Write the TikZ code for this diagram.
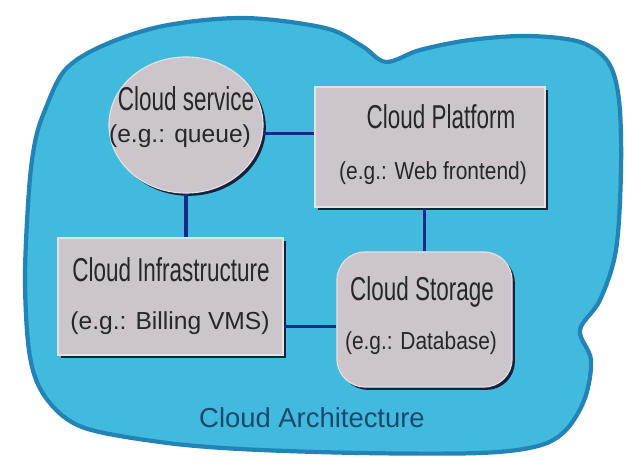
\documentclass[tikz,border=0pt]{standalone}
\usepackage{fontspec}
\setmainfont{Liberation Sans}
\newfontfamily\titlefont[FakeStretch=0.68]{Liberation Sans}
\newfontfamily\narrowfont[FakeStretch=0.85]{Liberation Sans}
\usetikzlibrary{shapes.geometric,shadows,positioning}

\begin{document}
\begin{tikzpicture}[x=0.025cm, y=-0.025cm,
    blocco/.style={fill=boxgray, draw=boxlight, line width=0.8pt,
        drop shadow={shadow xshift=0.07cm, shadow yshift=-0.07cm, fill=boxedge, opacity=1}},
    titolo/.style={font=\titlefont\fontsize{23.5}{28}\selectfont, text=inktext, inner sep=0pt},
    sottotitolo/.style={font=\fontsize{17.5}{21}\selectfont, text=inktext, inner sep=0pt},
    collegamento/.style={draw=linkblue, line width=2.2pt}]
    % Definizione colori
    \definecolor{cloudblue}{RGB}{66,186,222}
    \definecolor{cloudrim}{RGB}{34,132,182}
    \definecolor{boxgray}{RGB}{204,198,204}
    \definecolor{boxlight}{RGB}{228,226,230}
    \definecolor{boxedge}{RGB}{25,32,58}
    \definecolor{linkblue}{RGB}{20,42,135}
    \definecolor{inktext}{RGB}{38,38,44}
    \definecolor{captionblue}{RGB}{26,72,112}

    % Sfondo e nuvola
    \fill[white] (0,0) rectangle (627,459);
    \useasboundingbox (0,0) rectangle (627,459);
    \filldraw[fill=cloudblue, draw=cloudrim, line width=3pt]
        plot[smooth cycle, tension=0.55] coordinates {
        (45,110) (65,70) (102,46) (163,26) (244,18) (325,28) (362,46)
        (386,62) (420,50) (470,40) (528,36) (580,42) (608,62) (619,100)
        (621,170) (616,250) (600,300) (580,330) (591,360) (585,398)
        (566,430) (538,446) (480,453) (360,453) (240,449) (160,442)
        (82,427) (46,398) (30,357) (25,280) (29,190) (35,142)};

    % Blocchi
    \node[blocco, ellipse, minimum width=3.85cm, minimum height=3.4cm, inner sep=0pt] (serv) at (186,125) {};
    \node[blocco, minimum width=5.75cm, minimum height=3cm, inner sep=0pt] (plat) at (430,147) {};
    \node[blocco, minimum width=5.625cm, minimum height=2.925cm, inner sep=0pt] (infra) at (170.5,296.5) {};
    \node[blocco, rounded corners=0.7cm, minimum width=4.375cm, minimum height=3.375cm, inner sep=0pt] (store) at (424.5,319.5) {};

    % Collegamenti
    \draw[collegamento] (serv.354) -- (serv.354 -| plat.west);
    \draw[collegamento] (serv.south) -- (serv.south |- infra.north);
    \draw[collegamento] (store.north) -- (store.north |- plat.south);
    \draw[collegamento] (infra.345) -- (infra.345 -| store.west);

    % Etichette dei blocchi
    \node[titolo] (serv-t) at (186,99) {Cloud service};
    \node[sottotitolo] (serv-s) at (180,136) {(e.g.: queue)};

    \node[titolo] (plat-t) at (441,117) {Cloud Platform};
    \node[sottotitolo, font=\narrowfont\fontsize{17.5}{21}\selectfont] (plat-s) at (433,173) {(e.g.: Web frontend)};

    \node[titolo] (infra-t) at (171,270) {Cloud Infrastructure};
    \node[sottotitolo] (infra-s) at (170,323) {(e.g.: Billing VMS)};

    \node[titolo] (store-t) at (422,292) {Cloud Storage};
    \node[sottotitolo, font=\narrowfont\fontsize{17.5}{21}\selectfont] (store-s) at (421,343) {(e.g.: Database)};

    % Didascalia
    \node[font=\fontsize{19.5}{23}\selectfont, text=captionblue] (caption) at (312,418) {Cloud Architecture};
\end{tikzpicture}
\end{document}
